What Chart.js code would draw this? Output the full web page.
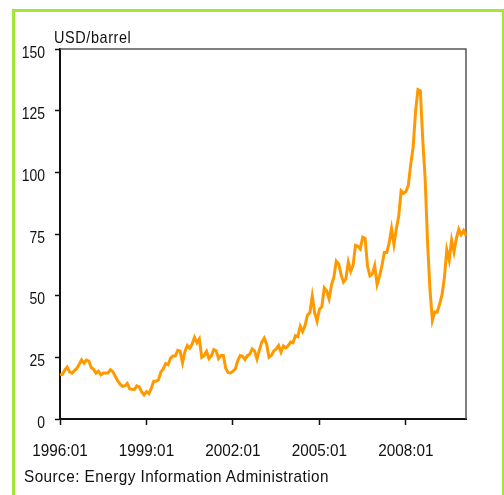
<!DOCTYPE html>
<html>
<head>
<meta charset="utf-8">
<script src="https://cdn.jsdelivr.net/npm/chart.js@4.4.1/dist/chart.umd.min.js"></script>
<style>
html, body { margin: 0; padding: 0; background: #fff; overflow: hidden; }
#frame { position: absolute; left: 12px; top: 9px; width: 487px; height: 520px; border: 3px solid #a3e635; }
#wrap { position: absolute; left: 0; top: 0; width: 504px; height: 495px; }
.txt { position: absolute; font-family: Arial, "Liberation Sans", sans-serif; font-size: 17px; color: #111; white-space: nowrap; transform-origin: 0 0; }
</style>
</head>
<body>
<div id="frame"></div>
<div id="wrap"><canvas id="c" width="504" height="495"></canvas></div>
<div class="txt" style="left:54px; top:28px; letter-spacing:0.7px; transform:scaleX(0.85)">USD/barrel</div>
<div class="txt" style="left:24px; top:467px; letter-spacing:0.5px; transform:scaleX(0.9)">Source: Energy Information Administration</div>
<script>
// monthly prices, 1996:01 .. 2010:02
var prices = [
  17.9, 18.1, 19.9, 21.0, 19.1, 18.6, 19.6, 20.5, 22.2, 24.0, 22.6, 23.9,
  23.5, 20.9, 20.2, 18.6, 19.4, 17.9, 18.6, 18.6, 18.6, 20.0, 19.2, 17.3,
  15.5, 14.1, 13.2, 13.4, 14.4, 12.2, 12.1, 12.0, 13.4, 13.0, 11.0, 9.8,
  11.1, 10.3, 12.5, 15.3, 15.3, 15.9, 19.1, 20.3, 22.5, 22.0, 24.6, 25.5,
  25.5, 27.8, 27.5, 22.8, 27.3, 29.8, 28.7, 30.4, 33.1, 30.9, 32.5, 25.0,
  25.7, 27.4, 24.5, 25.6, 28.1, 27.6, 24.5, 25.7, 25.7, 20.5, 18.8, 18.7,
  19.4, 20.3, 23.7, 25.7, 25.4, 24.1, 25.7, 26.3, 28.4, 27.5, 24.3, 28.0,
  31.2, 32.8, 30.3, 25.0, 25.8, 27.6, 28.4, 29.8, 27.1, 29.6, 28.8, 29.8,
  31.2, 30.9, 33.8, 33.4, 37.6, 35.5, 37.9, 42.1, 43.1, 49.8, 43.1, 39.6,
  44.5, 45.5, 53.1, 51.9, 48.7, 54.3, 57.5, 64.0, 62.9, 58.5, 55.5, 56.8,
  63.6, 59.9, 62.3, 70.4, 70.0, 68.9, 73.7, 73.2, 62.0, 58.0, 58.8, 62.2,
  54.5, 57.8, 62.1, 67.5, 67.5, 71.3, 77.2, 70.8, 77.1, 82.3, 92.5, 91.5,
  92.2, 94.8, 103.3, 110.2, 124.6, 133.5, 133.0, 113.2, 97.2, 71.6, 52.5, 40.0,
  43.4, 43.3, 46.5, 50.2, 57.3, 68.6, 64.4, 72.5, 67.7, 73.2, 77.0, 74.7,
  76.4, 74.3
];
var firstYear = 1996;
var xTickLabels = ["1996:01", "1999:01", "2002:01", "2005:01", "2008:01"];
var yTicks = [0, 25, 50, 75, 100, 125, 150];

// month labels for every point
var months = [];
for (var i = 0; i < prices.length; i++) {
  var y = firstYear + Math.floor(i / 12), m = (i % 12) + 1;
  months.push(y + ":" + (m < 10 ? "0" + m : m));
}

var fontFam = 'Arial, "Liberation Sans", sans-serif';

// thin box on the top and right of the plot area
var boxPlugin = {
  id: "box",
  beforeDatasetsDraw: function(chart) {
    var a = chart.chartArea, c = chart.ctx;
    c.save();
    c.strokeStyle = "#555";
    c.lineWidth = 1.5;
    c.beginPath();
    c.moveTo(a.left, a.top);
    c.lineTo(a.right, a.top);
    c.lineTo(a.right, a.bottom);
    c.stroke();
    c.restore();
  }
};

// the original uses a narrow typeface: squeeze canvas text horizontally
var canvas = document.getElementById("c");
var ctx2d = canvas.getContext("2d");
var origFill = ctx2d.fillText;
ctx2d.fillText = function(text, x, y, maxW) {
  var sx = this.textAlign === "right" ? 0.82 : 0.9;
  this.save();
  this.translate(x, y);
  this.scale(sx, 1);
  origFill.call(this, text, 0, 0);
  this.restore();
};

new Chart(canvas, {
  type: "line",
  data: {
    labels: months,
    datasets: [{
      data: prices,
      borderColor: "#ff9900",
      borderWidth: 3,
      pointRadius: 0,
      fill: false,
      tension: 0
    }]
  },
  options: {
    responsive: false,
    animation: false,
    layout: { padding: { top: 49, right: 38, left: 0, bottom: 0 } },
    plugins: { legend: { display: false }, tooltip: { enabled: false } },
    scales: {
      x: {
        type: "category",
        offset: false,
        afterFit: function(s) { s.height = 76; },
        border: { color: "#111", width: 2 },
        grid: {
          drawOnChartArea: false,
          tickLength: 6,
          tickWidth: 1.5,
          tickColor: function(ctx) {
            return xTickLabels.indexOf(months[ctx.index]) >= 0 ? "#111" : "rgba(0,0,0,0)";
          }
        },
        ticks: {
          autoSkip: false,
          maxRotation: 0,
          padding: 16,
          color: "#111",
          font: { family: fontFam, size: 17 },
          callback: function(v, idx) {
            return xTickLabels.indexOf(months[idx]) >= 0 ? months[idx] : "";
          }
        }
      },
      y: {
        min: 0,
        max: 150,
        afterFit: function(s) { s.width = 60; },
        afterBuildTicks: function(s) { s.ticks = yTicks.map(function(v) { return { value: v }; }); },
        border: { color: "#111", width: 2 },
        grid: { drawOnChartArea: false, tickLength: 5, tickWidth: 1.5, tickColor: "#111" },
        ticks: {
          padding: 10,
          labelOffset: 4,
          color: "#111",
          font: { family: fontFam, size: 17 }
        }
      }
    }
  },
  plugins: [boxPlugin]
});
</script>
</body>
</html>
